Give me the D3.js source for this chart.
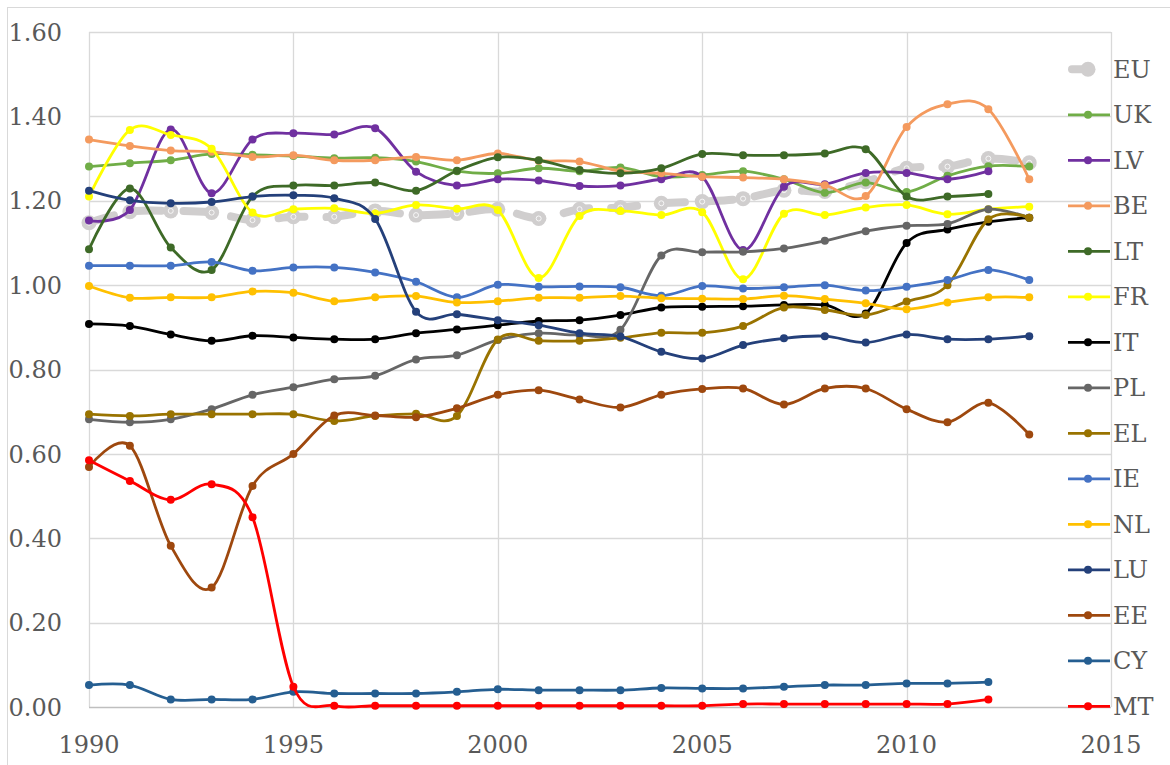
<!DOCTYPE html>
<html lang="en-US">
<head>
  <meta charset="UTF-8"/>
  <title>Series 1990-2013</title>
  <style>
    body { margin: 0; background: #fff; }
    svg text { font-family: "DejaVu Serif", serif; fill: #595959; }
  </style>
</head>
<body>
<svg id="chart" width="1170" height="765"></svg>

<script src="https://cdn.jsdelivr.net/npm/d3@7"></script>
<script>

// years on the x axis
var years = d3.range(1990, 2014);

// series values (null = no value)
var EU = [1.148, 1.174, 1.176, 1.172, 1.154, 1.162, 1.162, 1.176, 1.166, 1.170, 1.180, 1.158, 1.180, 1.184, 1.194, 1.198, 1.205, 1.225, 1.222, 1.245, 1.277, 1.281, 1.300, 1.290];
var UK = [1.281, 1.289, 1.296, 1.311, 1.309, 1.306, 1.301, 1.302, 1.293, 1.270, 1.265, 1.277, 1.270, 1.279, 1.257, 1.261, 1.270, 1.251, 1.219, 1.243, 1.221, 1.259, 1.282, 1.281];
var LV = [1.153, 1.178, 1.369, 1.218, 1.345, 1.360, 1.357, 1.372, 1.269, 1.236, 1.251, 1.248, 1.235, 1.236, 1.251, 1.257, 1.083, 1.233, 1.239, 1.266, 1.266, 1.251, 1.270, null];
var BE = [1.345, 1.330, 1.319, 1.316, 1.304, 1.308, 1.296, 1.296, 1.304, 1.296, 1.312, 1.295, 1.293, 1.270, 1.265, 1.257, 1.255, 1.251, 1.237, 1.211, 1.375, 1.429, 1.417, 1.251];
var LT = [1.085, 1.229, 1.089, 1.036, 1.210, 1.236, 1.236, 1.243, 1.224, 1.271, 1.303, 1.296, 1.273, 1.265, 1.277, 1.311, 1.308, 1.308, 1.312, 1.322, 1.210, 1.210, 1.216, null];
var FR = [1.210, 1.368, 1.356, 1.323, 1.172, 1.180, 1.182, 1.170, 1.190, 1.181, 1.178, 1.017, 1.164, 1.176, 1.166, 1.173, 1.014, 1.169, 1.166, 1.184, 1.190, 1.168, 1.180, 1.186];
var IT = [0.908, 0.903, 0.883, 0.868, 0.880, 0.876, 0.872, 0.872, 0.886, 0.895, 0.905, 0.915, 0.917, 0.929, 0.947, 0.949, 0.950, 0.953, 0.953, 0.933, 1.100, 1.132, 1.150, 1.160];
var PL = [0.682, 0.675, 0.682, 0.706, 0.740, 0.758, 0.777, 0.785, 0.824, 0.834, 0.870, 0.886, 0.882, 0.894, 1.070, 1.078, 1.079, 1.087, 1.105, 1.128, 1.141, 1.145, 1.180, 1.160];
var EL = [0.694, 0.690, 0.694, 0.694, 0.694, 0.694, 0.678, 0.690, 0.695, 0.690, 0.871, 0.868, 0.868, 0.875, 0.887, 0.887, 0.903, 0.947, 0.941, 0.929, 0.961, 1.000, 1.156, 1.160];
var IE = [1.046, 1.046, 1.046, 1.055, 1.034, 1.042, 1.042, 1.030, 1.008, 0.971, 1.001, 0.996, 0.997, 0.995, 0.975, 0.998, 0.992, 0.995, 1.000, 0.987, 0.996, 1.012, 1.036, 1.012];
var NL = [0.998, 0.970, 0.971, 0.971, 0.985, 0.982, 0.962, 0.971, 0.974, 0.959, 0.962, 0.970, 0.970, 0.974, 0.969, 0.968, 0.967, 0.975, 0.967, 0.957, 0.943, 0.959, 0.971, 0.971];
var LU = [1.224, 1.201, 1.194, 1.197, 1.210, 1.213, 1.206, 1.157, 0.937, 0.931, 0.917, 0.905, 0.886, 0.878, 0.842, 0.826, 0.858, 0.874, 0.879, 0.864, 0.883, 0.872, 0.872, 0.879];
var EE = [0.569, 0.619, 0.382, 0.283, 0.524, 0.600, 0.691, 0.691, 0.687, 0.708, 0.740, 0.751, 0.729, 0.710, 0.740, 0.754, 0.755, 0.717, 0.755, 0.755, 0.706, 0.675, 0.721, 0.646];
var CY = [0.052, 0.052, 0.018, 0.018, 0.018, 0.036, 0.032, 0.032, 0.032, 0.036, 0.042, 0.040, 0.040, 0.040, 0.045, 0.044, 0.044, 0.048, 0.052, 0.052, 0.056, 0.056, 0.059, null];
var MT = [0.585, 0.536, 0.491, 0.528, 0.450, 0.048, 0.003, 0.003, 0.003, 0.003, 0.003, 0.003, 0.003, 0.003, 0.003, 0.003, 0.007, 0.007, 0.007, 0.007, 0.007, 0.007, 0.018, null];

// series names, in drawing / legend order, and their colours
var names  = ["EU", "UK", "LV", "BE", "LT", "FR", "IT", "PL", "EL", "IE", "NL", "LU", "EE", "CY", "MT"];
var values = [EU, UK, LV, BE, LT, FR, IT, PL, EL, IE, NL, LU, EE, CY, MT];
var colors = ["#D0CECE", "#70AD47", "#7030A0", "#F49A5E", "#3E6A27", "#FFFF00", "#000000", "#666666",
              "#997300", "#4472C4", "#FFC000", "#24407A", "#9E480E", "#255E91", "#FF0000"];

// tick labels
var xTicks = [1990, 1995, 2000, 2005, 2010, 2015];
var yTicks = [0, 0.2, 0.4, 0.6, 0.8, 1.0, 1.2, 1.4, 1.6];

var svg = d3.select("#chart");

// plot area
var x = d3.scaleLinear().domain([1990, 2015]).range([89, 1111]);
var y = d3.scaleLinear().domain([0, 1.6]).range([707, 32]);

// chart border (only top/left show in the picture)
svg.append("rect")
    .attr("x", 7.5).attr("y", 7.5)
    .attr("width", 1175).attr("height", 775)
    .attr("fill", "none").attr("stroke", "#D9D9D9");

// gridlines
svg.append("g")
  .selectAll("line")
  .data(yTicks.slice(1))
  .enter().append("line")
    .attr("x1", x(1990)).attr("x2", x(2015))
    .attr("y1", function(d) { return Math.round(y(d)) + 0.5; })
    .attr("y2", function(d) { return Math.round(y(d)) + 0.5; })
    .attr("stroke", "#D9D9D9").attr("stroke-width", 1.3);

svg.append("g")
  .selectAll("line")
  .data(xTicks)
  .enter().append("line")
    .attr("x1", function(d) { return Math.round(x(d)) + 0.5; })
    .attr("x2", function(d) { return Math.round(x(d)) + 0.5; })
    .attr("y1", y(1.6)).attr("y2", y(0))
    .attr("stroke", "#D9D9D9").attr("stroke-width", 1.3);

// x axis line
svg.append("line")
    .attr("x1", x(1990)).attr("x2", x(2015))
    .attr("y1", Math.round(y(0)) + 0.5).attr("y2", Math.round(y(0)) + 0.5)
    .attr("stroke", "#BFBFBF").attr("stroke-width", 1.3);

// tick labels
svg.append("g")
  .selectAll("text")
  .data(yTicks)
  .enter().append("text")
    .attr("x", 62)
    .attr("y", function(d) { return y(d); })
    .attr("dy", "0.36em")
    .attr("text-anchor", "end")
    .style("font-size", "24px")
    .text(function(d) { return d3.format(".2f")(d); });

svg.append("g")
  .selectAll("text")
  .data(xTicks)
  .enter().append("text")
    .attr("x", function(d) { return x(d); })
    .attr("y", 753)
    .attr("text-anchor", "middle")
    .style("font-size", "24px")
    .text(function(d) { return d; });

// smoothed lines, like the spreadsheet's "smoothed line" option
var line = d3.line()
    .defined(function(d) { return d.v != null; })
    .x(function(d) { return x(d.year); })
    .y(function(d) { return y(d.v); })
    .curve(d3.curveCatmullRom.alpha(0));

var series = names.map(function(n, i) {
    return {
        name: n,
        color: colors[i],
        pts: years.map(function(yr, j) { return {year: yr, v: values[i][j]}; })
    };
});

var g = svg.append("g")
  .selectAll("g")
  .data(series)
  .enter().append("g");

g.append("path")
    .attr("d", function(d) { return line(d.pts); })
    .attr("fill", "none")
    .attr("stroke", function(d) { return d.color; })
    .attr("stroke-width", function(d) { return d.name == "EU" ? 8 : 2.8; })
    .attr("stroke-linecap", "round")
    .attr("stroke-dasharray", function(d) { return d.name == "EU" ? "26 22" : null; });

g.selectAll("circle")
  .data(function(d) {
      return d.pts.filter(function(p) { return p.v != null; })
                  .map(function(p) { return {p: p, s: d}; });
  })
  .enter().append("circle")
    .attr("cx", function(d) { return x(d.p.year); })
    .attr("cy", function(d) { return y(d.p.v); })
    .attr("r", function(d) { return d.s.name == "EU" ? 7.5 : 4; })
    .attr("fill", function(d) { return d.s.color; });

// little white ring inside the EU markers
g.filter(function(d) { return d.name == "EU"; })
  .selectAll("circle.ring")
  .data(function(d) { return d.pts; })
  .enter().append("circle")
    .attr("class", "ring")
    .attr("cx", function(d) { return x(d.year); })
    .attr("cy", function(d) { return y(d.v); })
    .attr("r", 2.5)
    .attr("fill", "none")
    .attr("stroke", "#fff")
    .attr("stroke-width", 0.8);

// legend
var legend = svg.append("g")
  .selectAll("g")
  .data(series)
  .enter().append("g")
    .attr("transform", function(d, i) { return "translate(0," + (69.3 + i * 45.5) + ")"; });

legend.append("line")
    .attr("x1", function(d) { return d.name == "EU" ? 1072 : 1068; })
    .attr("x2", function(d) { return d.name == "EU" ? 1088 : 1110; })
    .attr("stroke", function(d) { return d.color; })
    .attr("stroke-width", function(d) { return d.name == "EU" ? 8 : 2.8; })
    .attr("stroke-linecap", function(d) { return d.name == "EU" ? "round" : "butt"; });

legend.append("circle")
    .attr("cx", 1088)
    .attr("r", function(d) { return d.name == "EU" ? 7.5 : 4; })
    .attr("fill", function(d) { return d.color; });

legend.append("text")
    .attr("x", 1113)
    .attr("dy", "0.36em")
    .style("font-size", "24px")
    .text(function(d) { return d.name; });

</script>
</body>
</html>
